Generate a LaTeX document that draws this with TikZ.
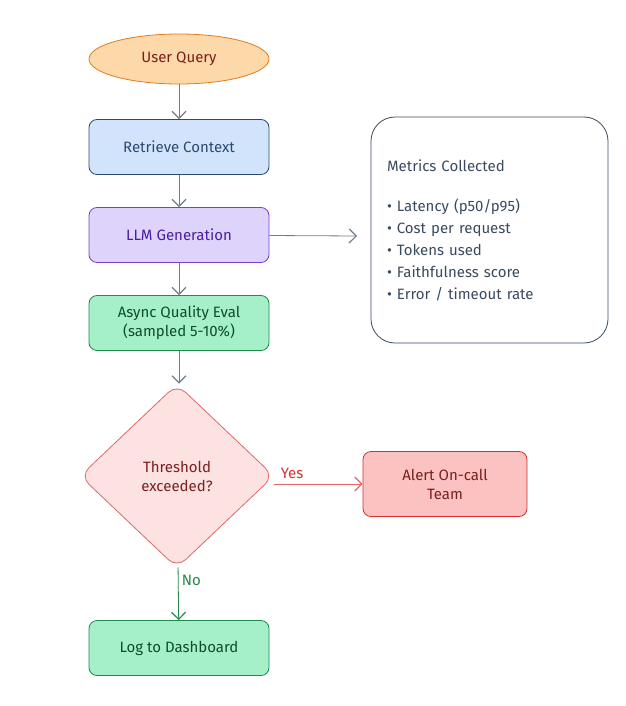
\documentclass[tikz,border=0pt]{standalone}
\usepackage{fontspec}
\setmainfont{Fira Sans}
\usetikzlibrary{shapes.geometric,arrows.meta,positioning}

\definecolor{qfill}{HTML}{FDD8A8}\definecolor{qdraw}{HTML}{E07B20}
\definecolor{bfill}{HTML}{D2E4FB}\definecolor{bdraw}{HTML}{2C4A6E}
\definecolor{pfill}{HTML}{DDD3FB}\definecolor{pdraw}{HTML}{7A3FD0}\definecolor{ptext}{HTML}{4B1D9E}
\definecolor{gfill}{HTML}{A6F0C9}\definecolor{gdraw}{HTML}{1F8A4C}\definecolor{gtext}{HTML}{0E4D2A}
\definecolor{dfill}{HTML}{FDE2E2}\definecolor{ddraw}{HTML}{E06666}\definecolor{dtext}{HTML}{7A1F1F}
\definecolor{rfill}{HTML}{FCC2C2}\definecolor{rdraw}{HTML}{D43030}
\definecolor{edge}{HTML}{6E7C8C}\definecolor{mtext}{HTML}{3A4A5E}

\begin{document}
\begin{tikzpicture}[%
    x=1pt, y=-1pt,              % Work in reference pixels, y going down
    node distance=88pt,         % Centre-to-centre spacing of the main flow
    >={Straight Barb[length=7pt,width=14pt,line width=1.2pt]},
    font=\fontsize{15}{19}\selectfont,
    ]
% -------------------------------------------------
% Box and connector styles
\tikzset{
  base/.style={draw, thick, on grid, align=center, minimum width=180pt, minimum height=55pt},
  box/.style={base, rectangle, rounded corners=8pt},
  query/.style={base, ellipse, minimum height=50pt, fill=qfill, draw=qdraw, text=dtext},
  fetch/.style={box, fill=bfill, draw=bdraw, text=bdraw},
  gen/.style={box, fill=pfill, draw=pdraw, text=ptext},
  good/.style={box, fill=gfill, draw=gdraw, text=gtext},
  check/.style={draw, thick, diamond, minimum width=194pt, minimum height=184pt, rounded corners=12pt,
    fill=dfill, draw=ddraw, text=dtext, align=center},
  alarm/.style={box, minimum width=164pt, minimum height=65pt, fill=rfill, draw=rdraw, text=dtext},
  norm/.style={->, thick, draw=edge},
  yes/.style={->, thick, draw=ddraw},
  no/.style={->, thick, draw=gdraw},
}
\useasboundingbox (0,0) rectangle (625,706);
% -------------------------------------------------
% Main flow, top to bottom
\node [query] (query) at (179,59) {User Query};
\node [fetch, below=of query] (ctx) {Retrieve Context};
\node [gen, below=of ctx] (llm) {LLM Generation};
\node [good, below=of llm] (eval) {Async Quality Eval\\(sampled 5-10\%)};
\node [check] (thr) at (177,476) {Threshold\\exceeded?};
\node [alarm] (alert) at (445,484) {Alert On-call\\Team};
\node [good] (log) at (179,648) {Log to Dashboard};

% Side panel
\node [draw=mtext, thick, rounded corners=24pt, minimum width=237pt, minimum height=226pt,
  text=mtext, align=left, text width=205pt] (metrics) at (489.5,230)
  {\fontsize{15}{22}\selectfont Metrics Collected\\[18pt]
   \textbullet\ Latency (p50/p95)\\
   \textbullet\ Cost per request\\
   \textbullet\ Tokens used\\
   \textbullet\ Faithfulness score\\
   \textbullet\ Error / timeout rate\\[10pt]};
\coordinate (mend) at (357,236);

% -------------------------------------------------
% Connectors
\draw[norm] (query) -- (ctx);
\draw[norm] (ctx) -- (llm);
\draw[norm] (llm) -- (eval);
\draw[norm] (eval) -- (eval |- thr.north);
\draw[norm] (llm) -- (mend);
\draw[yes] (thr.east |- alert) -- (alert) node[pos=0.2, above=2pt, text=rdraw] {Yes};
\draw[no] (thr) -- (log) node[pos=0.25, right, text=gdraw] {No};
% -------------------------------------------------
\end{tikzpicture}
\end{document}
